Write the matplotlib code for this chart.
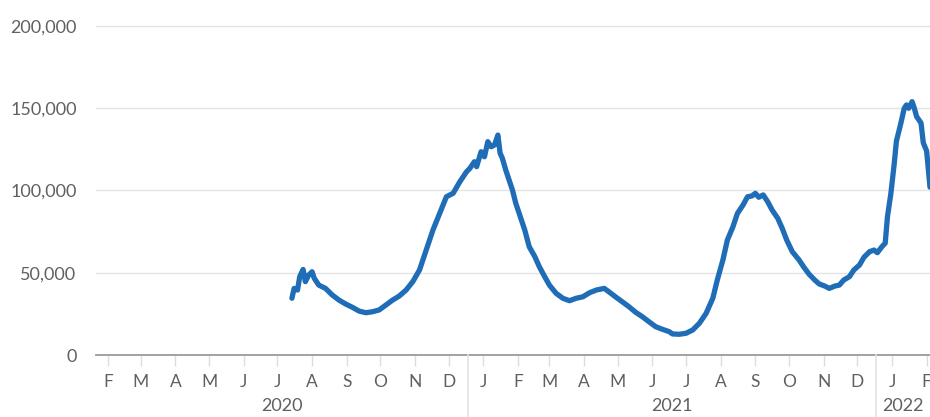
import numpy as np
import pandas as pd
import matplotlib
matplotlib.use("Agg")
import matplotlib.pyplot as plt
import matplotlib.transforms as mtransforms

# values
dates = ["2020-07-28","2020-07-30","2020-08-02","2020-08-04","2020-08-07","2020-08-09","2020-08-12","2020-08-15","2020-08-17","2020-08-21","2020-08-27",
         "2020-09-02","2020-09-08","2020-09-14","2020-09-20","2020-09-26","2020-10-02","2020-10-08","2020-10-14","2020-10-20","2020-10-26",
         "2020-11-01","2020-11-07","2020-11-13","2020-11-19","2020-11-25","2020-12-01","2020-12-07","2020-12-13","2020-12-19","2020-12-25","2020-12-31",
         "2021-01-03","2021-01-07","2021-01-09","2021-01-13","2021-01-16","2021-01-19","2021-01-22","2021-01-25","2021-01-28","2021-01-30",
         "2021-02-01","2021-02-04","2021-02-07","2021-02-10","2021-02-13","2021-02-16","2021-02-21","2021-02-25",
         "2021-03-02","2021-03-06","2021-03-10","2021-03-15","2021-03-21","2021-03-27",
         "2021-04-02","2021-04-08","2021-04-14","2021-04-20","2021-04-26",
         "2021-05-03","2021-05-07","2021-05-13","2021-05-19","2021-05-25","2021-05-31",
         "2021-06-06","2021-06-12","2021-06-18","2021-06-24","2021-06-30",
         "2021-07-03","2021-07-09","2021-07-15","2021-07-21","2021-07-27",
         "2021-08-02","2021-08-08","2021-08-12","2021-08-17","2021-08-21","2021-08-26","2021-08-30",
         "2021-09-04","2021-09-08","2021-09-12","2021-09-15","2021-09-18","2021-09-22","2021-09-26","2021-09-30",
         "2021-10-05","2021-10-09","2021-10-13","2021-10-18","2021-10-24","2021-10-28",
         "2021-11-02","2021-11-07","2021-11-11","2021-11-16","2021-11-20","2021-11-25","2021-11-29",
         "2021-12-03","2021-12-08","2021-12-12","2021-12-17","2021-12-21","2021-12-26","2021-12-30",
         "2022-01-02","2022-01-06","2022-01-09","2022-01-11","2022-01-14","2022-01-17","2022-01-19","2022-01-23","2022-01-26","2022-01-28","2022-01-30",
         "2022-02-02","2022-02-04","2022-02-06","2022-02-10","2022-02-12","2022-02-15","2022-02-18"]
values = [34500,40500,39500,47600,52000,44600,48600,50600,46600,42500,40500,
          36500,33400,31000,29000,26700,25700,26300,27400,30400,33400,
          35900,39500,44600,51700,63800,76000,86100,96200,98300,105300,111400,
          113500,117500,114500,123600,120500,129700,126600,127700,133700,122600,
          119600,112500,106400,100300,92200,86100,76000,65800,
          59800,53700,48600,42500,37500,34500,
          33000,34500,35400,37900,39500,
          40500,38500,35400,32400,29400,26000,
          23300,20200,17200,15600,14200,
          12800,12600,13200,15200,19300,
          25300,34500,45600,57800,69900,78000,86100,
          91200,96200,96700,98300,95900,97300,93200,88100,
          83100,77000,69900,62800,57800,53700,
          49100,45600,43200,41900,40500,41900,42500,
          45600,47600,51700,54700,59400,62800,63800,
          62200,65800,68000,84000,98000,116000,130000,141000,150000,152000,150000,
          154000,150000,145000,141000,129000,124000,102000]

month_letters = ["J","F","M","A","M","J","J","A","S","O","N","D"]
years = [2020, 2021, 2022]
yticks = [0, 50000, 100000, 150000, 200000]

x = pd.to_datetime(dates)
xmin = pd.Timestamp("2020-02-04")
xmax = pd.Timestamp("2022-02-18")

fig = plt.figure(figsize=(9.3, 4.17), dpi=100)
ax = fig.add_axes([96/930, 62/417, 834/930, 329/417])
plt.rcParams['font.family'] = ['Lato', 'DejaVu Sans']

gray = "#606060"
ax.plot(x, values, color="#1f6cb7", lw=3.8, solid_capstyle="round", solid_joinstyle="round", zorder=3)

ax.set_xlim(xmin, xmax)
ax.set_ylim(0, 200000)

# y axis
ax.set_yticks(yticks)
ax.set_yticklabels(["{:,}".format(v) for v in yticks], fontsize=13, color=gray, family="Lato")
ax.tick_params(axis="y", length=0, pad=14)
for v in yticks[1:]:
    ax.axhline(v, color="#e4e4e4", lw=1, zorder=1, clip_on=False)
ax.axhline(0, color="#9a9a9a", lw=1.3, zorder=2, clip_on=False)

# x axis: mid-month ticks with letters
ticks = pd.date_range("2020-02-01", "2022-02-01", freq="MS") + pd.Timedelta(days=14)
ax.set_xticks(ticks)
ax.set_xticklabels([month_letters[t.month-1] for t in ticks], fontsize=12.5, color=gray, family="Lato")
ax.tick_params(axis="x", length=8, width=1, color="#dddddd", pad=6)

for s in ax.spines.values():
    s.set_visible(False)

trans = mtransforms.blended_transform_factory(ax.transData, ax.transAxes)
for y in years:
    start = max(pd.Timestamp(f"{y}-01-01"), xmin)
    end = min(pd.Timestamp(f"{y+1}-01-01"), xmax)
    if y > years[0]:
        ax.plot([start, start], [0, -0.19], color="#e4e4e4", lw=1.2, transform=trans, clip_on=False)
    mid = start + (end - start) / 2
    ax.text(mid, -0.155, str(y), transform=trans, ha="center", va="center", fontsize=13, color=gray, family="Lato")

fig.savefig("out.png", dpi=100)
